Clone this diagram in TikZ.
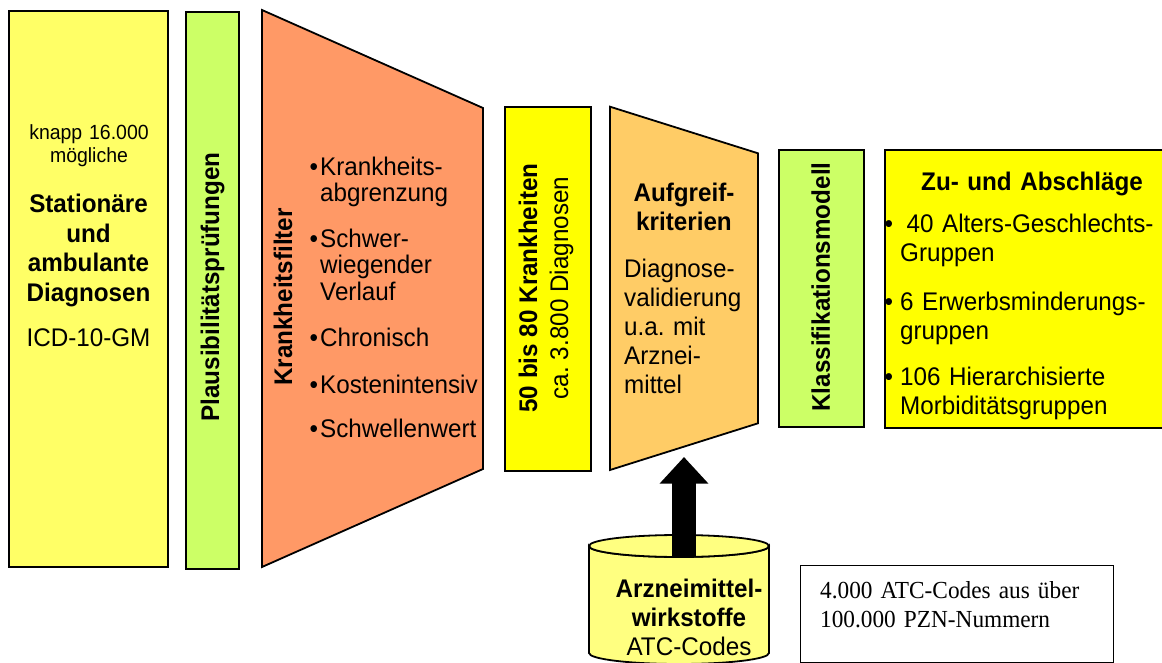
\documentclass[tikz,border=0pt]{standalone}
\usepackage{fontspec}
\setmainfont{Liberation Sans}[FakeStretch=0.95]
\newfontfamily\serifx{Liberation Serif}[FakeStretch=0.95]
\usetikzlibrary{arrows.meta}
\definecolor{lyellow}{RGB}{255,255,102}
\definecolor{lgreen}{RGB}{204,255,102}
\definecolor{lorange}{RGB}{255,153,102}
\definecolor{byellow}{RGB}{255,255,0}
\definecolor{lapricot}{RGB}{255,204,102}
\definecolor{cylyellow}{RGB}{255,255,128}
\frenchspacing
\begin{document}
\begin{tikzpicture}[x=1pt,y=-1pt,
  box/.style={draw=black, line width=1.8pt, inner sep=0pt, anchor=north west},
  txt/.style={inner sep=0pt, font=\fontsize{25.5}{29}\selectfont},
  ctxt/.style={txt, anchor=base, align=center, text width=#1},
  ltxt/.style={txt, anchor=base west, align=left, text width=#1},
  vtxt/.style={inner sep=0pt, rotate=90, align=center, font=\fontsize{25.5}{31}\selectfont},
  bigarrow/.style={line width=24pt, -{Triangle[width=47pt,length=26.5pt]}}
]
\useasboundingbox (0,0) rectangle (1162,663);

% boxes
\node[box, fill=lyellow, minimum width=159pt, minimum height=556pt] (diag) at (8,10) {};
\node[box, fill=lgreen, minimum width=53pt, minimum height=557pt] (plausbox) at (185,11) {};
\draw[line width=1.8pt, fill=lorange] (262,10) -- (483,108) -- (483,469) -- (262,567) -- cycle;
\node[box, fill=byellow, minimum width=86pt, minimum height=363.5pt] (krbox) at (504,106.5) {};
\draw[line width=1.8pt, fill=lapricot] (610,106.7) -- (758,153.3) -- (758,423.3) -- (610,470) -- cycle;
\node[box, fill=lgreen, minimum width=85pt, minimum height=276.5pt] (klbox) at (778,149.5) {};
\node[box, fill=byellow, minimum width=300pt, minimum height=278pt] (zubox) at (884,149) {};
\node[box, line width=0.8pt, minimum width=313pt, minimum height=97pt] (atcbox) at (800,565) {};

% left box texts
\node[ctxt=150pt, font=\fontsize{20.5}{23}\selectfont] (knapp) at (89,139.5) {knapp 16.000\\mögliche};
\node[ctxt=155pt, font=\fontsize{25.5}{29.5}\selectfont\bfseries] (stat) at (88.5,212.7) {Stationäre\\und\\ambulante\\Diagnosen};
\node[ctxt=155pt] (icd) at (88.5,346.7) {ICD-10-GM};

% vertical labels
\node[vtxt, font=\fontsize{25.5}{31}\selectfont\bfseries] (plaus) at (212.5,287) {Plausibilitätsprüfungen};
\node[vtxt, font=\fontsize{25.5}{31}\selectfont\bfseries] (kfilter) at (283,297) {Krankheitsfilter};
\node[vtxt] (kr) at (546,288) {\textbf{50 bis 80 Krankheiten}\\ca. 3.800 Diagnosen};
\node[vtxt, font=\fontsize{25.5}{31}\selectfont\bfseries] (klass) at (820.7,287) {Klassifikationsmodell};

% Krankheitsfilter list
\tikzset{li/.style={ltxt=170pt, font=\fontsize{25.5}{26.5}\selectfont}}
\node[li] (k1) at (320,175.5) {\llap{•\kern2pt}Krankheits-\\abgrenzung};
\node[li] (k2) at (320,247.4) {\llap{•\kern2pt}Schwer-\\wiegender\\Verlauf};
\node[li] (k3) at (320,346.7) {\llap{•\kern2pt}Chronisch};
\node[li] (k4) at (320,393.2) {\llap{•\kern2pt}Kostenintensiv};
\node[li] (k5) at (320,437.6) {\llap{•\kern2pt}Schwellenwert};

% Aufgreifkriterien
\node[ctxt=140pt, font=\fontsize{25.5}{28.5}\selectfont\bfseries] (aufg) at (684,201.7) {Aufgreif-\\kriterien};
\node[ltxt=140pt] (diagval) at (624,277.7) {Diagnose-\\validierung\\u.a. mit\\Arznei-\\mittel};

% Zu- und Abschlaege
\node[ctxt=260pt, font=\fontsize{25.5}{29}\selectfont\bfseries] (zutitle) at (1032,191) {Zu- und Abschläge};
\tikzset{zi/.style={ltxt=260pt}}
\node[zi] (z1) at (900,233) {\llap{•\kern7pt}\hspace*{6.5pt}40 Alters-Geschlechts-\\Gruppen};
\node[zi] (z2) at (900,310) {\llap{•\kern7pt}6 Erwerbsminderungs-\\gruppen};
\node[zi] (z3) at (900,385) {\llap{•\kern7pt}106 Hierarchisierte\\Morbiditätsgruppen};

% cylinder
\path[draw, line width=1.8pt, fill=cylyellow] (589,546) -- (589,653)
  arc[start angle=180, end angle=0, x radius=90, y radius=11] -- (769,546)
  arc[start angle=0, end angle=180, x radius=90, y radius=11] -- cycle;
\draw[line width=1.8pt, fill=cylyellow] (679,546) ellipse [x radius=90, y radius=11];
\node[ctxt=170pt] (arz) at (689,597.3) {\textbf{Arzneimittel-}\\\textbf{wirkstoffe}\\ATC-Codes};

% arrow
\coordinate (cyltop) at (684,556.5);
\coordinate (auftip) at (684,457);
\draw[bigarrow] (cyltop) -- (auftip);

% ATC note
\node[ltxt=290pt, font=\fontsize{24.5}{29}\serifx] (atc) at (820,598) {4.000 ATC-Codes aus über\\100.000 PZN-Nummern};
\end{tikzpicture}
\end{document}
